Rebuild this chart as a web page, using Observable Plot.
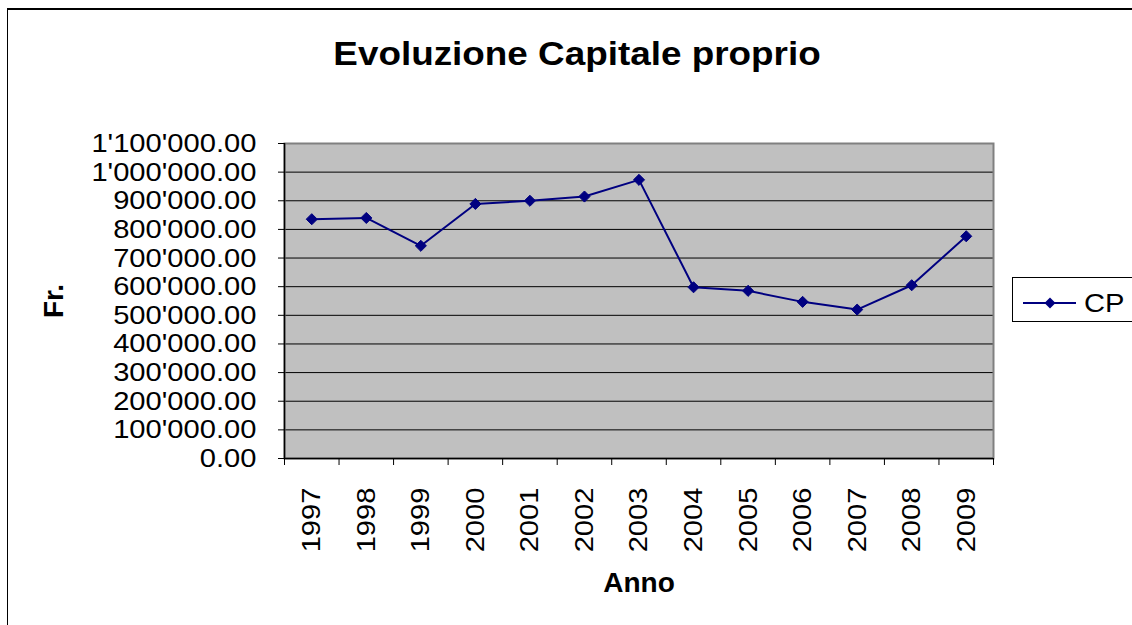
<!DOCTYPE html>
<html>
<head>
<meta charset="utf-8">
<script src="https://cdn.jsdelivr.net/npm/d3@7"></script>
<script src="https://cdn.jsdelivr.net/npm/@observablehq/plot@0.6"></script>
<style>
  html, body { margin: 0; padding: 0; background: #fff; }
  #wrap { position: relative; width: 1132px; height: 625px; overflow: hidden; background: #fff; }
  #outer { position: absolute; left: 7px; top: 8px; width: 2000px; height: 2000px;
           border-left: 1.5px solid #000; border-top: 2px solid #000; box-sizing: border-box; }
  #chart { position: absolute; left: 0; top: 0; }
  #legend { position: absolute; left: 1012px; top: 277px; width: 140px; height: 45px;
            border: 1px solid #000; background: #fff; box-sizing: border-box; }
</style>
</head>
<body>
<div id="wrap">
  <div id="outer"></div>
  <div id="chart"></div>
  <div id="legend"></div>
</div>
<script>
// ---- data ----
const years = [1997, 1998, 1999, 2000, 2001, 2002, 2003, 2004, 2005, 2006, 2007, 2008, 2009];
const cp = [835600, 840000, 742700, 889000, 900000, 914800, 973000, 598000, 585500, 547000, 520000, 605000, 776000];
const yTicks = [0, 100000, 200000, 300000, 400000, 500000, 600000, 700000, 800000, 900000, 1000000, 1100000];
const title = "Evoluzione Capitale proprio";
const seriesName = "CP";
const xLabel = "Anno";
const yLabel = "Fr.";

const data = years.map((year, i) => ({year, value: cp[i]}));
const boundaries = d3.range(years.length + 1).map(i => years[0] - 0.5 + i);
const fmt = v => d3.format(",.2f")(v).replace(/,/g, "'");
const navy = "#000080";
const FONT = "'Liberation Sans', Arial, sans-serif";

const chart = Plot.plot({
  width: 1132, height: 625,
  marginLeft: 284, marginRight: 139, marginTop: 143, marginBottom: 167,
  style: {fontFamily: FONT, fontSize: "26.5px", color: "#000", background: "transparent", overflow: "visible"},
  x: {type: "linear", domain: [boundaries[0], boundaries[boundaries.length - 1]]},
  y: {domain: [yTicks[0], yTicks[yTicks.length - 1]]},
  marks: [
    Plot.frame({fill: "#C0C0C0", stroke: null}),
    Plot.ruleY(yTicks.slice(0, -1), {stroke: "#000", strokeWidth: 1}),
    Plot.frame({stroke: "#808080", strokeWidth: 2}),
    Plot.ruleX([boundaries[0]], {stroke: "#000", strokeWidth: 1.5}),
    Plot.ruleY([0], {stroke: "#000", strokeWidth: 1.5}),
    Plot.axisY(yTicks, {tickSize: 6, tickPadding: 22, tickFormat: fmt, label: null, fontSize: 26.5, className: "stretch"}),
    Plot.axisX(boundaries, {tickSize: 7, tickFormat: () => "", label: null}),
    Plot.axisX(years, {tickSize: 0, tickPadding: 29, tickRotate: -90, tickFormat: d => String(d), label: null, fontSize: 26.5, className: "stretch"}),
    Plot.line(data, {x: "year", y: "value", stroke: navy, strokeWidth: 2}),
    Plot.dot(data, {x: "year", y: "value", symbol: "diamond2", r: 5, fill: navy, stroke: navy, strokeWidth: 1}),
    Plot.text([title], {frameAnchor: "top", lineAnchor: "middle", textAnchor: "middle", dy: -89, dx: -62, fontSize: 33.5, fontWeight: "bold", className: "stretch"}),
    Plot.text([yLabel], {frameAnchor: "left", lineAnchor: "middle", textAnchor: "middle", dx: -230, rotate: -90, fontSize: 28, fontWeight: "bold"}),
    Plot.text([xLabel], {frameAnchor: "bottom", lineAnchor: "middle", textAnchor: "middle", dy: 125, fontSize: 28, fontWeight: "bold"})
  ]
});
document.getElementById("chart").appendChild(chart);

// ---- legend ----
const lg = d3.select("#legend").append("svg")
  .attr("width", 140).attr("height", 45)
  .style("font-family", FONT);
lg.append("line").attr("x1", 10).attr("x2", 63).attr("y1", 25).attr("y2", 25)
  .attr("stroke", navy).attr("stroke-width", 2);
lg.append("path").attr("d", "M37,19.5L42.5,25L37,30.5L31.5,25Z").attr("fill", navy);
lg.append("g").attr("class", "stretch").append("text").attr("x", 71).attr("y", 25).attr("dy", "0.35em")
  .attr("font-size", 26.5).attr("fill", "#000").text(seriesName);

// ---- widen text like the reference rendering ----
const STRETCH = 1.1;
document.querySelectorAll("#wrap .stretch text").forEach(t => {
  if (!t.textContent) return;
  const len = t.getComputedTextLength();
  if (len > 0) {
    t.setAttribute("textLength", len * STRETCH);
    t.setAttribute("lengthAdjust", "spacingAndGlyphs");
  }
});
</script>
</body>
</html>
